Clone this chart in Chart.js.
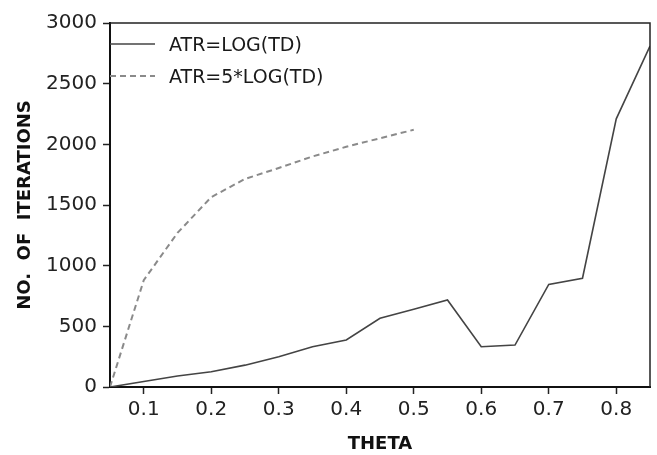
<!DOCTYPE html>
<html>
<head>
<meta charset="utf-8">
<script src="https://cdn.jsdelivr.net/npm/chart.js@4.4.1/dist/chart.umd.min.js"></script>
<style>
  html, body { margin: 0; padding: 0; background: #fff; }
  #wrap { width: 657px; height: 455px; }
</style>
</head>
<body>
<div id="wrap"><canvas id="iter-chart" width="657" height="455"></canvas></div>
<script>
// values
const theta = [0.05, 0.10, 0.15, 0.20, 0.25, 0.30, 0.35, 0.40, 0.45, 0.50, 0.55, 0.60, 0.65, 0.70, 0.75, 0.80, 0.85];
const itersLog = [0, 45, 90, 126, 180, 250, 332, 387, 566, 640, 717, 332, 346, 846, 896, 2210, 2810];

const thetaDash = [0.05, 0.10, 0.15, 0.20, 0.25, 0.30, 0.35, 0.40, 0.45, 0.50];
const itersLog5 = [0, 880, 1270, 1565, 1715, 1805, 1900, 1980, 2050, 2120];

const xTicks = [0.1, 0.2, 0.3, 0.4, 0.5, 0.6, 0.7, 0.8];
const yTicks = [0, 500, 1000, 1500, 2000, 2500, 3000];

const seriesLabels = ['ATR=LOG(TD)', 'ATR=5*LOG(TD)'];

const toPoints = (xs, ys) => xs.map((x, i) => ({x: x, y: ys[i]}));

// box lines on top and right + legend inside the plot
const framePlugin = {
  id: 'frame',
  afterDraw(chart) {
    const {ctx, chartArea: a} = chart;
    ctx.save();
    ctx.strokeStyle = '#222';
    ctx.lineWidth = 1.5;
    ctx.beginPath();
    ctx.moveTo(a.left, a.top);
    ctx.lineTo(a.right, a.top);
    ctx.lineTo(a.right, a.bottom);
    ctx.stroke();

    ctx.font = '19px "DejaVu Sans"';
    ctx.textBaseline = 'middle';
    ctx.fillStyle = '#1a1a1a';
    chart.data.datasets.forEach((ds, i) => {
      const y = a.top + 21 + i * 32;
      ctx.strokeStyle = ds.borderColor;
      ctx.lineWidth = ds.borderWidth;
      ctx.setLineDash(ds.borderDash || []);
      ctx.beginPath();
      ctx.moveTo(a.left, y);
      ctx.lineTo(a.left + 45, y);
      ctx.stroke();
      ctx.setLineDash([]);
      ctx.fillText(ds.label, a.left + 59, y + 2);
    });
    ctx.restore();
  }
};

const ctx = document.getElementById('iter-chart');

new Chart(ctx, {
  type: 'line',
  data: {
    datasets: [
      {
        label: seriesLabels[0],
        data: toPoints(theta, itersLog),
        borderColor: '#444',
        borderWidth: 1.6,
        pointRadius: 0,
        tension: 0,
        fill: false,
      },
      {
        label: seriesLabels[1],
        data: toPoints(thetaDash, itersLog5),
        borderColor: '#8a8a8a',
        borderWidth: 2,
        borderDash: [6, 4],
        pointRadius: 0,
        tension: 0,
        fill: false,
      },
    ],
  },
  options: {
    responsive: false,
    animation: false,
    layout: { padding: { top: 23, right: 7, left: 0, bottom: 0 } },
    plugins: {
      legend: { display: false },
      tooltip: { enabled: false },
    },
    scales: {
      x: {
        type: 'linear',
        min: 0.05,
        max: 0.85,
        afterBuildTicks: (scale) => { scale.ticks = xTicks.map(v => ({value: v})); },
        afterFit: (scale) => { scale.height = 68; },
        grid: { drawOnChartArea: false, tickLength: 7, color: '#222', tickWidth: 1.5 },
        border: { display: true, color: '#111', width: 2 },
        ticks: {
          color: '#222',
          padding: 4,
          maxRotation: 0,
          font: { family: 'DejaVu Sans', size: 20 },
          callback: (v) => v.toFixed(1),
        },
        title: {
          display: true,
          text: 'THETA',
          color: '#111',
          font: { family: 'DejaVu Sans', size: 18, weight: 'bold' },
          padding: { top: 0, bottom: 0 },
        },
      },
      y: {
        min: 0,
        max: 3000,
        afterBuildTicks: (scale) => { scale.ticks = yTicks.map(v => ({value: v})); },
        afterFit: (scale) => { scale.width = 110; },
        grid: { drawOnChartArea: false, tickLength: 7, color: '#222', tickWidth: 1.5 },
        border: { display: true, color: '#111', width: 2 },
        ticks: {
          color: '#222',
          padding: 6,
          font: { family: 'DejaVu Sans', size: 20 },
          callback: (v) => String(v),
        },
        title: {
          display: true,
          text: 'NO.  OF  ITERATIONS',
          color: '#111',
          font: { family: 'DejaVu Sans', size: 18, weight: 'bold' },
          padding: { top: 15, bottom: 0 },
        },
      },
    },
  },
  plugins: [framePlugin],
});
</script>
</body>
</html>
